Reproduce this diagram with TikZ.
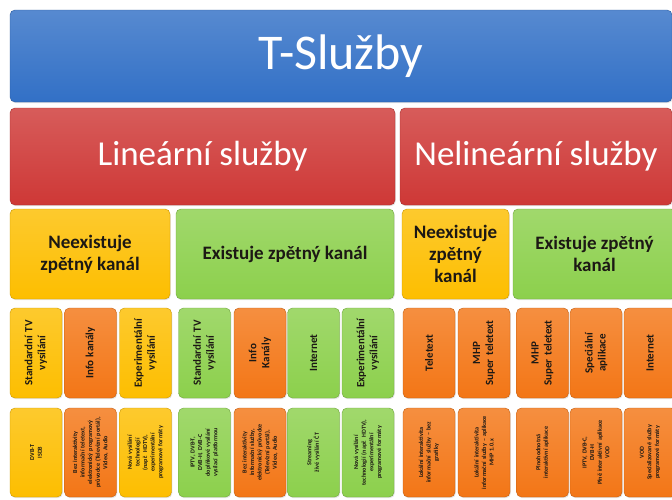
\documentclass[tikz,border=0pt]{standalone}
\usepackage{fontspec}
\setmainfont{Carlito}
\usepackage{xcolor}
\usepackage{tikz}
\usetikzlibrary{shadows}

\definecolor{tblue}{RGB}{50,112,198}
\definecolor{tred}{RGB}{206,56,54}
\definecolor{tyellow}{RGB}{253,190,0}
\definecolor{tgreen}{RGB}{140,208,76}
\definecolor{torange}{RGB}{243,118,22}
\definecolor{tink}{RGB}{28,24,20}

\begin{document}
\begin{tikzpicture}[x=1pt,y=-1pt]
            \tikzset{box/.style = {rounded corners=5pt, inner sep=2pt, align=center, draw=#1!80!black, line width=0.4pt,
                                   top color=#1!82!white, bottom color=#1, drop shadow={opacity=0.2, shadow xshift=0.8pt, shadow yshift=-1.2pt}}}
            \tikzset{head/.style = {box=#1, text=white}}
            \tikzset{group/.style = {box=#1, text=tink, minimum height=90, font=\fontsize{19}{22}\selectfont\bfseries}}
            \tikzset{kind/.style = {box=#1, text=tink, rotate=90, minimum width=90, minimum height=52, text width=84, font=\fontsize{11}{13}\selectfont\bfseries}}
            \tikzset{detail/.style = {box=#1, text=tink, rotate=90, minimum width=89, minimum height=52, text width=84, font=\fontsize{6.1}{7.6}\selectfont\bfseries}}

            \clip (0,0) rectangle (672,499);
            \fill[white] (0,0) rectangle (672,499);

            \node[head=tblue, minimum width=662, minimum height=92, font=\fontsize{50}{60}\selectfont] (tsluzby) at (341,56) {T-Služby};

            \node[head=tred, minimum width=385, minimum height=97, font=\fontsize{35}{42}\selectfont] (linearni) at (202.5,156.5) {Lineární služby};
            \node[head=tred, minimum width=272, minimum height=97, font=\fontsize{35}{42}\selectfont] (nelinearni) at (536,156.5) {Nelineární služby};

            % zpetny kanal
            \node[group=tyellow, minimum width=160] (lneex) at (90,254) {Neexistuje\\zpětný kanál};
            \node[group=tgreen, minimum width=218] (lex) at (285,254) {Existuje zpětný kanál};
            \node[group=tyellow, minimum width=107] (nneex) at (455.5,254) {Neexistuje\\zpětný\\kanál};
            \node[group=tgreen, minimum width=163] (nex) at (594.5,254) {Existuje zpětný\\kanál};

            \node[kind=tyellow] (k1) at (36,353) {Standardní TV\\vysílání};
            \node[kind=torange] (k2) at (90.5,353) {Info kanály};
            \node[kind=tyellow] (k3) at (145.5,353) {Experimentální\\vysílání};
            \node[kind=tgreen] (k4) at (204.5,353) {Standardní TV\\vysílání};
            \node[kind=torange] (k5) at (260,353) {Info\\Kanály};
            \node[kind=tgreen] (k6) at (313.5,353) {Internet};
            \node[kind=tgreen] (k7) at (368,353) {Experimentální\\vysílání};
            \node[kind=torange] (k8) at (429,353) {Teletext};
            \node[kind=torange] (k9) at (484,353) {MHP\\Super teletext};
            \node[kind=torange] (k10) at (542.5,353) {MHP\\Super teletext};
            \node[kind=torange] (k11) at (596,353) {Speciální\\aplikace};
            \node[kind=torange] (k12) at (650,353) {Internet};

            \node[detail=tyellow] (d1) at (36,452.5) {DVB-T\\ISDB};
            \node[detail=torange] (d2) at (90.5,452.5) {Bez interaktivity\\informační teletext,\\elektronický programový\\průvodce (Televizní portál),\\Video, Audio};
            \node[detail=tyellow] (d3) at (145.5,452.5) {Nová vysílání\\technologií\\(např. HDTV),\\experimentální\\programové formáty};
            \node[detail=tgreen] (d4) at (204.5,452.5) {IPTV, DVB-T,\\DVB-H, DVB-C\\doplňkové vysílání\\vysílací platformou};
            \node[detail=torange] (d5) at (260,452.5) {Bez interaktivity\\informační služby,\\elektronický průvodce\\(Televizní portál),\\Video, Audio};
            \node[detail=tgreen] (d6) at (313.5,452.5) {Streaming\\živé vysílání ČT};
            \node[detail=tgreen] (d7) at (368,452.5) {Nová vysílání\\technologií (např. HDTV),\\experimentální\\programové formáty};
            \node[detail=torange] (d8) at (429,452.5) {Lokální interaktivita\\informační služby -- bez\\grafiky};
            \node[detail=torange] (d9) at (484,452.5) {Lokální interaktivita\\informační služby -- aplikace\\MHP 1.0.x};
            \node[detail=torange] (d10) at (542.5,452.5) {Plnohodnotná\\interaktivní aplikace};
            \node[detail=torange] (d11) at (596,452.5) {IPTV, DVB-C,\\DVB-H\\Plně interaktivní aplikace\\VOD};
            \node[detail=torange] (d12) at (650,452.5) {VOD\\Specializované služby\\programové formáty};

        \end{tikzpicture}
\end{document}
